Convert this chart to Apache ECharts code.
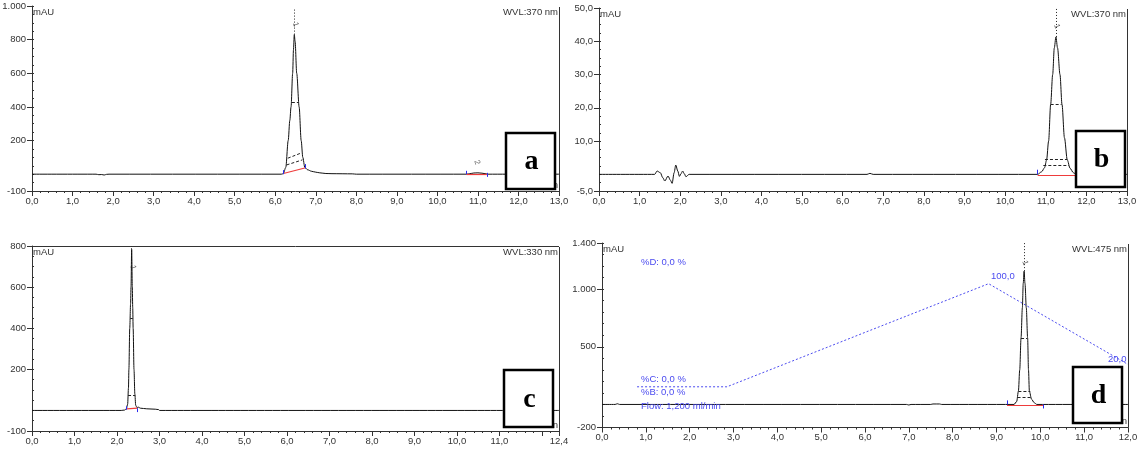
<!DOCTYPE html>
<html>
<head>
<meta charset="utf-8">
<title>Chromatograms a-d</title>
<script src="https://cdn.jsdelivr.net/npm/echarts@6/dist/echarts.min.js"></script>
<style>
  html, body { margin: 0; padding: 0; background: #fff; }
  #chart { width: 1141px; height: 450px; }
</style>
</head>
<body>
<div id="chart"></div>
<script>
// ---- data (time in min, signal in mAU) ----
const traceA = [[0,0],[1.58,0],[1.65,-3],[1.72,-2],[1.78,-5],[1.84,-1],[1.9,0],
  [6.15,0],[6.2,3],[6.26,40],[6.32,200],[6.36,320],[6.39,400],[6.43,600],[6.45,740],[6.47,830],[6.49,790],
  [6.53,600],[6.59,400],[6.64,200],[6.68,100],[6.73,40],[6.8,26],[6.9,17],[7.0,12],[7.1,8],[7.25,4],
  [7.4,3],[7.9,2],[8.0,0],[10.72,0],[10.8,3],[10.9,7],[11.0,8],[11.1,6],[11.2,2],[11.25,0],[13,0]];
const traceB = [[0,0],[1.37,0],[1.43,1],[1.51,0.5],[1.57,-1],[1.62,-2],[1.7,-0.5],[1.76,-1.8],[1.8,-2.7],
  [1.85,0.5],[1.89,2.8],[1.94,1],[1.98,-0.6],[2.02,0.2],[2.06,1],[2.1,0.2],[2.14,-0.7],[2.22,0],
  [6.6,0],[6.67,0.3],[6.75,0],[10.8,0],[10.9,0.8],[10.97,2],[11.02,4.3],[11.07,10],[11.12,21],[11.17,30],
  [11.21,38],[11.25,41.3],[11.29,38],[11.35,30],[11.4,21],[11.46,11],[11.53,4.3],[11.6,1.8],[11.68,0.5],
  [11.75,0],[13,0]];
const traceC = [[0,0],[2.1,0],[2.18,2],[2.22,8],[2.25,30],[2.27,110],[2.28,200],[2.3,400],[2.32,520],
  [2.33,600],[2.345,784],[2.36,600],[2.37,500],[2.38,400],[2.4,200],[2.42,80],[2.44,25],[2.47,14],
  [2.5,16],[2.55,11],[2.7,8],[2.9,6],[2.98,4],[3.0,0],[12.4,0]];
const traceD = [[0,0],[0.3,0],[0.35,6],[0.4,0],[6.95,0],[7.0,-5],[7.05,0],[7.5,0],[7.55,4],[7.7,4],[7.75,0],
  [9.4,0],[9.46,25],[9.5,115],[9.53,300],[9.56,578],[9.59,838],[9.61,1050],[9.63,1156],[9.65,1050],
  [9.68,838],[9.71,578],[9.73,300],[9.75,115],[9.8,45],[9.86,15],[9.92,0],[12,0]];
// solvent gradient drawn over panel d
const gradientD = [[0.8,153],[2.85,153],[8.82,1047],[12,347]];

// axis tick labels
const xLabelsAB = [0,1,2,3,4,5,6,7,8,9,10,11,12,13];
const xLabelsC = [0,1,2,3,4,5,6,7,8,9,10,11,12.4];
const xLabelsD = [0,1,2,3,4,5,6,7,8,9,10,11,12];
const yLabelsA = [-100,200,400,600,800,1000];
const yLabelsB = [-5,10,20,30,40,50];
const yLabelsC = [-100,200,400,600,800];
const yLabelsD = [-200,500,1000,1400];

// peak integration marks: [from, to] segments
const dottedA = [[[6.47,830],[6.47,985]]];
const dashedA = [[[6.41,425],[6.57,425]],[[6.31,95],[6.63,125]],[[6.28,55],[6.67,85]]];
const redA = [[[6.2,4],[6.73,37]],[[10.72,0],[11.22,0]]];
const blueA = [[[6.2,0],[6.2,24]],[[6.73,34],[6.73,60]],[[10.72,0],[10.72,20]],[[11.22,-16],[11.22,8]]];
const dottedB = [[[11.25,41.3],[11.25,50]]];
const dashedB = [[[11.12,21],[11.39,21]],[[10.98,4.5],[11.53,4.5]],[[10.94,2.6],[11.57,2.6]]];
const redB = [[[10.8,-0.4],[11.8,-0.4]]];
const blueB = [[[10.8,0],[10.8,1.4]]];
const dottedC = [[[2.345,784],[2.345,800]]];
const dashedC = [[[2.31,450],[2.37,450]],[[2.26,75],[2.43,75]]];
const redC = [[[2.23,8],[2.48,11]]];
const blueC = [[[2.22,3],[2.22,20]],[[2.47,-8],[2.47,11]]];
const dottedD = [[[9.63,1156],[9.63,1400]]];
const dashedD = [[[9.56,575],[9.7,575]],[[9.5,115],[9.77,115]],[[9.48,58],[9.8,58]]];
const redD = [[[9.24,-10],[10.07,-10]]];
const blueD = [[[9.24,0],[9.24,35]],[[10.07,-35],[10.07,0]]];
// peak numbers [time, mAU, text]
const peaksA = [[6.5,890,'1'],[10.98,70,'2']];
const peaksB = [[11.27,44.5,'1']];
const peaksC = [[2.38,695,'1']];
const peaksD = [[9.65,1229,'1']];

const FONT = '"Liberation Sans", Arial, sans-serif';
const AXIS_COLOR = '#333';
const BLUE = '#4b4bf0';

// 1.000 / 10,0 style numbers
function fmtNum(v, dec) {
    const neg = v < 0;
    let [ip, fp] = Math.abs(v).toFixed(dec).split('.');
    ip = ip.replace(/\B(?=(\d{3})+(?!\d))/g, '.');
    return (neg ? '-' : '') + ip + (fp ? ',' + fp : '');
}

function segs(list, style) {
    return list.map(s => [{ coord: s[0], lineStyle: style }, { coord: s[1] }]);
}

const panels = [
    { grid: { left: 32, top: 6, width: 527, height: 185 }, trace: traceA, xMax: 13, xLabels: xLabelsAB,
      yMin: -100, yMax: 1000, yStep: 50, yLabels: yLabelsA, yDec: 0,
      dotted: dottedA, dashed: dashedA, red: redA, blue: blueA, peaks: peaksA,
      wvl: 'WVL:370 nm', letter: 'a', box: [506, 133, 49, 56], topBorder: false },
    { grid: { left: 599, top: 8, width: 528, height: 183 }, trace: traceB, xMax: 13, xLabels: xLabelsAB,
      yMin: -5, yMax: 50, yStep: 2.5, yLabels: yLabelsB, yDec: 1,
      dotted: dottedB, dashed: dashedB, red: redB, blue: blueB, peaks: peaksB,
      wvl: 'WVL:370 nm', letter: 'b', box: [1076, 131, 49, 56], topBorder: false },
    { grid: { left: 32, top: 246, width: 527, height: 185 }, trace: traceC, xMax: 12.4, xLabels: xLabelsC,
      yMin: -100, yMax: 800, yStep: 50, yLabels: yLabelsC, yDec: 0,
      dotted: dottedC, dashed: dashedC, red: redC, blue: blueC, peaks: peaksC,
      wvl: 'WVL:330 nm', letter: 'c', box: [504, 370, 49, 57], topBorder: true },
    { grid: { left: 602, top: 243, width: 526, height: 184.5 }, trace: traceD, xMax: 12, xLabels: xLabelsD,
      yMin: -200, yMax: 1400, yStep: 100, yLabels: yLabelsD, yDec: 0,
      dotted: dottedD, dashed: dashedD, red: redD, blue: blueD, peaks: peaksD,
      wvl: 'WVL:475 nm', letter: 'd', box: [1073, 367, 49, 56], topBorder: false }
];

const grids = [], xAxes = [], yAxes = [], series = [], graphics = [];

panels.forEach((p, i) => {
    grids.push({ ...p.grid, outerBoundsMode: 'none', containLabel: false });

    xAxes.push({
        type: 'value', gridIndex: i, min: 0, max: p.xMax, interval: 1,
        splitLine: { show: false },
        axisLine: { onZero: false, lineStyle: { color: AXIS_COLOR, width: 1 } },
        axisTick: { length: 5, lineStyle: { color: AXIS_COLOR } },
        minorTick: { show: true, splitNumber: 5, length: 2, lineStyle: { color: AXIS_COLOR } },
        axisLabel: {
            customValues: p.xLabels, margin: 5, color: '#333', fontSize: 9.5, fontFamily: FONT,
            formatter: v => fmtNum(v, 1)
        }
    });

    // main axis: labelled values only
    yAxes.push({
        type: 'value', gridIndex: i, min: p.yMin, max: p.yMax, interval: p.yStep,
        splitLine: { show: false },
        axisLine: { onZero: false, lineStyle: { color: AXIS_COLOR, width: 1 } },
        axisTick: { customValues: p.yLabels, length: 5, lineStyle: { color: AXIS_COLOR } },
        axisLabel: {
            customValues: p.yLabels, margin: 6, color: '#333', fontSize: 9.5, fontFamily: FONT,
            formatter: v => fmtNum(v, p.yDec)
        }
    });
    // small ticks
    yAxes.push({
        type: 'value', gridIndex: i, min: p.yMin, max: p.yMax, interval: p.yStep,
        splitLine: { show: false },
        axisLine: { show: false },
        axisTick: { length: 2, lineStyle: { color: AXIS_COLOR } },
        axisLabel: { show: false }
    });

    const markData = [].concat(
        segs(p.dotted, { color: '#222', type: [1, 2], width: 1 }),
        segs(p.dashed, { color: '#222', type: [3, 2], width: 1 }),
        segs(p.red, { color: '#ee3b3b', type: 'solid', width: 1.2 }),
        segs(p.blue, { color: '#2a2af0', type: 'solid', width: 1 })
    );

    series.push({
        type: 'line', xAxisIndex: i, yAxisIndex: 2 * i, data: p.trace,
        showSymbol: false, smooth: 0.3, smoothMonotone: 'x',
        lineStyle: { color: '#111', width: 1 },
        z: 3,
        markLine: { silent: true, symbol: 'none', z: 6, label: { show: false }, data: markData }
    });

    series.push({
        type: 'scatter', xAxisIndex: i, yAxisIndex: 2 * i, data: p.peaks,
        symbolSize: 0, silent: true,
        label: {
            show: true, position: 'inside', rotate: -70, formatter: d => d.value[2],
            color: '#333', fontSize: 8, fontFamily: FONT
        }
    });

    const g = p.grid;
    const right = g.left + g.width;
    const bottom = g.top + g.height;

    // frame parts
    graphics.push({ type: 'line', shape: { x1: right + 0.5, y1: g.top + 1, x2: right + 0.5, y2: bottom },
        style: { stroke: AXIS_COLOR, lineWidth: 1 }, z: 5 });
    if (p.topBorder) {
        graphics.push({ type: 'line', shape: { x1: g.left, y1: g.top + 0.5, x2: right, y2: g.top + 0.5 },
            style: { stroke: AXIS_COLOR, lineWidth: 1 }, z: 5 });
    }

    // header texts
    graphics.push({ type: 'text', x: g.left + 1, y: g.top + 6, z: 6,
        style: { text: 'mAU', fill: '#333', font: '9.5px ' + FONT, align: 'left', verticalAlign: 'middle' } });
    graphics.push({ type: 'text', x: right - 1, y: g.top + 6, z: 6,
        style: { text: p.wvl, fill: '#333', font: '9.5px ' + FONT, align: 'right', verticalAlign: 'middle' } });
    graphics.push({ type: 'text', x: right - 1, y: bottom - 6, z: 6,
        style: { text: 'min', fill: '#333', font: '9.5px ' + FONT, align: 'right', verticalAlign: 'middle' } });

    // panel letter box
    const [bx, by, bw, bh] = p.box;
    graphics.push({ type: 'rect', shape: { x: bx, y: by, width: bw, height: bh }, z: 20,
        style: { fill: '#fff', stroke: '#000', lineWidth: 2.5 } });
    graphics.push({ type: 'text', x: bx + bw / 2 + 1, y: by + bh / 2 + 1, z: 21,
        style: { text: p.letter, fill: '#000', font: 'bold 28px "Liberation Serif", serif',
                 align: 'center', verticalAlign: 'middle' } });
});

// gradient program on panel d
series.push({
    type: 'line', xAxisIndex: 3, yAxisIndex: 6, data: gradientD,
    showSymbol: false, silent: true,
    lineStyle: { color: BLUE, width: 1, type: [2, 2] }, z: 2
});

const gradTexts = [
    ['%D: 0,0 %', 641, 262],
    ['%C: 0,0 %', 641, 379],
    ['%B: 0,0 %', 641, 392],
    ['Flow: 1,200 ml/min', 641, 406],
    ['100,0', 991, 276],
    ['20,0', 1108, 359]
];
gradTexts.forEach(([t, x, y]) => {
    graphics.push({ type: 'text', x: x, y: y, z: 6,
        style: { text: t, fill: BLUE, font: '9.5px ' + FONT, align: 'left', verticalAlign: 'middle' } });
});

const chart = echarts.init(document.getElementById('chart'));
chart.setOption({
    animation: false,
    backgroundColor: '#fff',
    grid: grids,
    xAxis: xAxes,
    yAxis: yAxes,
    series: series,
    graphic: { elements: graphics }
});
</script>
</body>
</html>
